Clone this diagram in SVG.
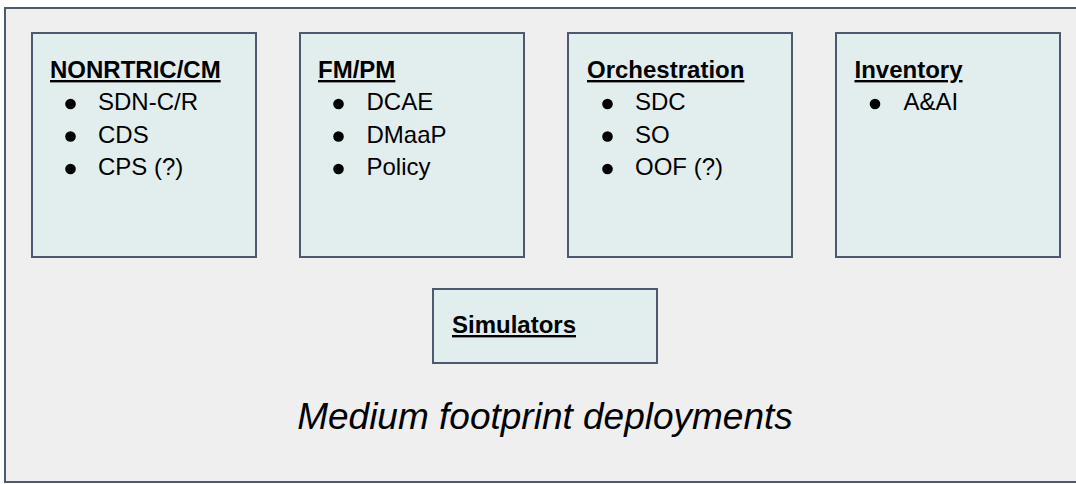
<svg xmlns="http://www.w3.org/2000/svg" width="1076" height="484" viewBox="0 0 1076 484">
<style>
.outer{fill:#efefef;stroke:#4b5a6e;stroke-width:2}
.box{fill:#e2eeee;stroke:#4b5a6e;stroke-width:2}
.t{font-family:"Liberation Sans",Arial,sans-serif;font-size:24px;fill:#000}
.h{font-weight:bold;text-decoration:underline}
.cap{font-family:"Liberation Sans",Arial,sans-serif;font-size:37px;font-style:italic;fill:#000}
.dot{fill:#000}
</style>
<rect class="outer" x="5" y="8" width="1080" height="474"/>
<g id="nonrtric">
<rect class="box" x="32" y="33" width="224" height="224"/>
<text class="t h" x="50" y="78">NONRTRIC/CM</text>
<circle class="dot" cx="70.5" cy="104" r="5.3"/>
<text class="t" x="98" y="110">SDN-C/R</text>
<circle class="dot" cx="70.5" cy="136.5" r="5.3"/>
<text class="t" x="98" y="142.5">CDS</text>
<circle class="dot" cx="70.5" cy="169" r="5.3"/>
<text class="t" x="98" y="175">CPS (?)</text>
</g>
<g id="fmpm">
<rect class="box" x="300" y="33" width="224" height="224"/>
<text class="t h" x="318" y="78">FM/PM</text>
<circle class="dot" cx="338.5" cy="104" r="5.3"/>
<text class="t" x="366.5" y="110">DCAE</text>
<circle class="dot" cx="338.5" cy="136.5" r="5.3"/>
<text class="t" x="366.5" y="142.5">DMaaP</text>
<circle class="dot" cx="338.5" cy="169" r="5.3"/>
<text class="t" x="366.5" y="175">Policy</text>
</g>
<g id="orchestration">
<rect class="box" x="568" y="33" width="224" height="224"/>
<text class="t h" x="587" y="78">Orchestration</text>
<circle class="dot" cx="607.5" cy="104" r="5.3"/>
<text class="t" x="635" y="110">SDC</text>
<circle class="dot" cx="607.5" cy="136.5" r="5.3"/>
<text class="t" x="635" y="142.5">SO</text>
<circle class="dot" cx="607.5" cy="169" r="5.3"/>
<text class="t" x="635" y="175">OOF (?)</text>
</g>
<g id="inventory">
<rect class="box" x="836" y="33" width="224" height="224"/>
<text class="t h" x="854.5" y="78">Inventory</text>
<circle class="dot" cx="875" cy="104" r="5.3"/>
<text class="t" x="903.5" y="110">A&amp;AI</text>
</g>
<g id="simulators">
<rect class="box" x="433" y="289" width="224" height="74"/>
<text class="t h" x="452" y="333">Simulators</text>
</g>
<g id="connectors"/>
<text class="cap" x="545" y="429" text-anchor="middle">Medium footprint deployments</text>
</svg>
